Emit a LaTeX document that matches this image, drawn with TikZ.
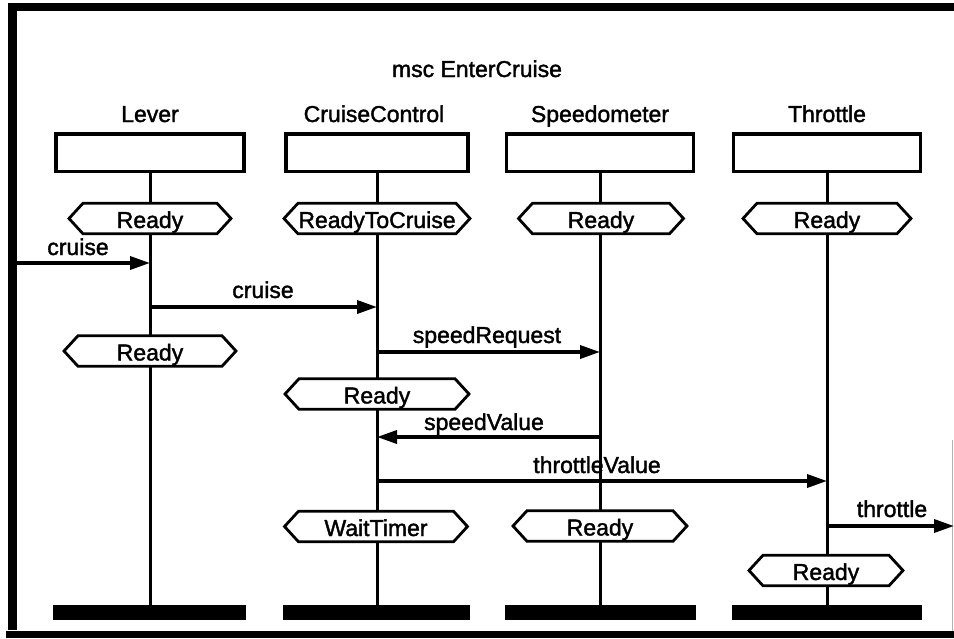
\documentclass[tikz,border=0pt]{standalone}
\usepackage{fontspec}
\setmainfont{Liberation Sans}
\newfontfamily\mscfont[FakeBold=1.6]{Liberation Sans}
\usetikzlibrary{arrows.meta,shapes.symbols}
\begin{document}
\begin{tikzpicture}[x=1pt,y=-1pt,
  every node/.style={font=\mscfont\fontsize{23}{27}\selectfont},
  inst/.style={draw, line width=3.5pt, minimum height=37.5pt, inner sep=0pt},
  cond/.style={signal, signal to=west and east, signal pointer angle=95, draw, line width=2.8pt, fill=white, minimum height=30.5pt, inner sep=0pt, text height=19pt, text depth=0pt},
  life/.style={line width=3pt},
  msg/.style={line width=3.5pt, -{Triangle[length=20pt,width=13pt]}},
  endbar/.style={fill=black, draw=none, minimum height=15pt, inner sep=0pt},
  lbl/.style={anchor=base, inner sep=0pt},
  frame/.style={line cap=butt},
]
\useasboundingbox (0,0) rectangle (954,638);
% frame
\draw[frame, line width=8pt] (8,7) -- (954,7);
\draw[frame, line width=9pt] (12.5,3) -- (12.5,630);
\draw[frame, line width=7pt] (6,634.5) -- (954,634.5);
\draw[gray!60, line width=1pt] (952.5,440) -- (952.5,631);

% title
\node[lbl] (title) at (477,77) {msc EnterCruise};

% lifeline x
\coordinate (Lx) at (150,0);
\coordinate (Cx) at (377,0);
\coordinate (Sx) at (600,0);
\coordinate (Tx) at (827,0);

% instance names
\node[lbl] (nL) at (150,122) {Lever};
\node[lbl] (nC) at (374,122) {CruiseControl};
\node[lbl] (nS) at (600,122) {Speedometer};
\node[lbl] (nT) at (827,122) {Throttle};

% header boxes
\node[inst, minimum width=188pt] (hL) at (150,152.5) {};
\node[inst, minimum width=182pt] (hC) at (377,152.5) {};
\node[inst, minimum width=187pt] (hS) at (600,152.5) {};
\node[inst, minimum width=187pt] (hT) at (827,152.5) {};

% end bars
\node[endbar, minimum width=193pt] (eL) at (149,612.5) {};
\node[endbar, minimum width=187pt] (eC) at (376,612.5) {};
\node[endbar, minimum width=191pt] (eS) at (600,612.5) {};
\node[endbar, minimum width=190pt] (eT) at (827,612.5) {};

% lifelines
\draw[life] (hL.south) -- (hL.south |- eL.north);
\draw[life] (hC.south) -- (hC.south |- eC.north);
\draw[life] (hS.south) -- (hS.south |- eS.north);
\draw[life] (hT.south) -- (hT.south |- eT.north);

% conditions
\node[cond, minimum width=162pt] (cL1) at (150,218.5) {Ready};
\node[cond, minimum width=186pt] (cC1) at (377,218.5) {ReadyToCruise};
\node[cond, minimum width=165pt] (cS1) at (601,218.5) {Ready};
\node[cond, minimum width=168pt] (cT1) at (827,218.5) {Ready};
\node[cond, minimum width=172pt] (cL2) at (150,351) {Ready};
\node[cond, minimum width=184pt] (cC2) at (377,394) {Ready};
\node[cond, minimum width=183pt] (cC3) at (376,526.5) {WaitTimer};
\node[cond, minimum width=174pt] (cS3) at (600,526) {Ready};
\node[cond, minimum width=154pt] (cT3) at (826,570.5) {Ready};

% messages
\coordinate (envL) at (17,263);
\coordinate (m2) at (0,307);
\coordinate (m3) at (0,352);
\coordinate (m4) at (0,437);
\coordinate (m5) at (0,481);
\coordinate (envR) at (954,526);

\draw[msg] (envL) -- (Lx |- envL);
\draw[msg] (Lx |- m2) -- (Cx |- m2);
\draw[msg] (Cx |- m3) -- (Sx |- m3);
\draw[msg] (Sx |- m4) -- (Cx |- m4);
\draw[msg] (Cx |- m5) -- (Tx |- m5);
\draw[msg] (Tx |- envR) -- (envR);

% message labels
\node[lbl] (t1) at (78,255) {cruise};
\node[lbl] (t2) at (263,298) {cruise};
\node[lbl] (t3) at (487,343) {speedRequest};
\node[lbl] (t4) at (484,430) {speedValue};
\node[lbl] (t5) at (597,473) {throttleValue};
\node[lbl] (t6) at (892,517) {throttle};
\end{tikzpicture}
\end{document}
